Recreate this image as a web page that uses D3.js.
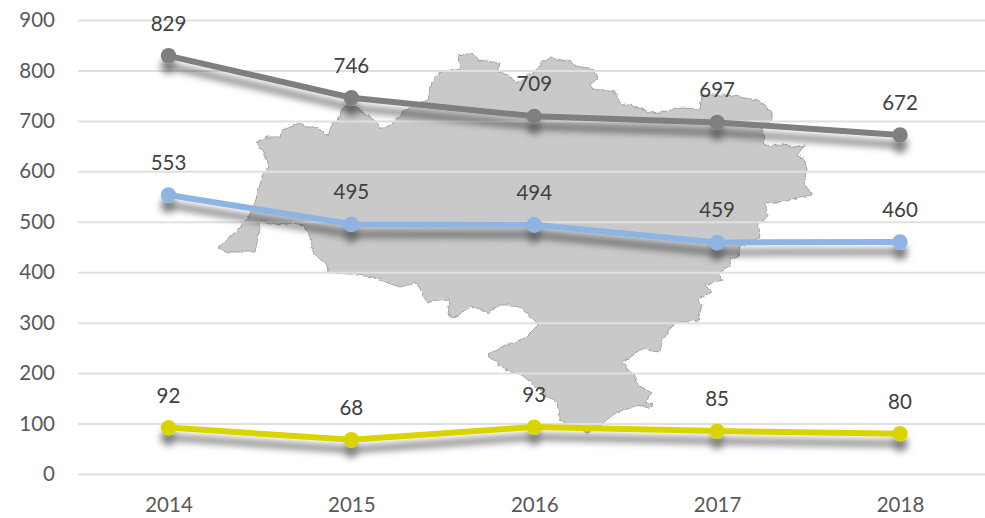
<!DOCTYPE html>
<html>
<head>
<meta charset="utf-8">
<script src="https://cdn.jsdelivr.net/npm/d3@7"></script>
<style>
html,body{margin:0;padding:0;background:#fff;}
svg{display:block;}
</style>
</head>
<body>
<svg id="chart" width="985" height="518"></svg>
<script>
const years = ["2014", "2015", "2016", "2017", "2018"];
const yTicks = [0, 100, 200, 300, 400, 500, 600, 700, 800, 900];
const grayValues = [829, 746, 709, 697, 672];
const blueValues = [553, 495, 494, 459, 460];
const yellowValues = [92, 68, 93, 85, 80];
const seriesList = [grayValues, blueValues, yellowValues];
const seriesColors = ["#7f7f7f", "#8db4e2", "#d9d400"];

const svg = d3.select("#chart");
const fontFamily = "Lato, Carlito, 'Open Sans', sans-serif";
const x = d3.scalePoint().domain(years).range([168.5, 900]);
const y = d3.scaleLinear().domain([0, 900]).range([474, 20]);

const defs = svg.append("defs");
const shadow = defs.append("filter").attr("id", "shadow")
  .attr("filterUnits", "userSpaceOnUse")
  .attr("x", 0).attr("y", 0).attr("width", 985).attr("height", 518);
shadow.append("feDropShadow").attr("dx", 0).attr("dy", 10).attr("stdDeviation", 3.8)
  .attr("flood-color", "#000").attr("flood-opacity", 0.5);
const rough = defs.append("filter").attr("id", "rough")
  .attr("filterUnits", "userSpaceOnUse")
  .attr("x", 0).attr("y", 0).attr("width", 985).attr("height", 518);
rough.append("feTurbulence").attr("type", "fractalNoise").attr("baseFrequency", 0.18)
  .attr("numOctaves", 2).attr("seed", 4).attr("result", "n");
rough.append("feDisplacementMap").attr("in", "SourceGraphic").attr("in2", "n")
  .attr("scale", 4).attr("xChannelSelector", "R").attr("yChannelSelector", "G");

/* decorative backdrop: regional outline, in page pixels */
const backdropOutline = [
  [257,143],[267,137],[280,137],[282,130],[303,123],[305,127],[317,127],[328,136],[332,123],[338,122],
  [340,112],[347,106],[355,107],[363,112],[375,120],[380,128],[385,128],[397,120],[407,108],[428,100],
  [432,82],[440,72],[460,68],[458,56],[472,53],[478,60],[500,63],[498,72],[508,75],[517,83],
  [537,70],[542,61],[550,58],[572,62],[576,66],[592,69],[598,78],[590,85],[593,89],[615,92],
  [620,103],[637,107],[650,113],[661,112],[672,110],[680,108],[700,109],[702,95],[727,95],[745,98],
  [757,100],[766,106],[772,112],[772,120],[762,128],[765,145],[773,146],[783,144],[795,147],[805,145],
  [797,155],[804,160],[807,168],[804,183],[812,195],[800,197],[787,201],[765,203],[768,217],[757,225],
  [760,237],[740,247],[738,257],[730,260],[730,267],[718,273],[722,280],[705,285],[712,292],[697,300],
  [702,305],[698,320],[675,323],[663,338],[660,352],[652,351],[642,348],[623,363],[632,373],[638,385],
  [652,393],[645,402],[653,405],[648,408],[640,405],[617,412],[600,425],[588,433],[567,425],[560,420],
  [557,403],[543,393],[522,375],[505,370],[488,355],[500,348],[525,338],[538,325],[522,308],[510,305],
  [500,305],[488,313],[472,306],[453,318],[448,315],[450,300],[427,302],[417,283],[400,287],[385,282],
  [373,277],[350,274],[328,273],[327,265],[313,253],[310,237],[303,225],[292,223],[280,225],[258,220],
  [260,228],[255,252],[225,252],[218,248],[240,228],[243,223],[249,216],[255,203],[263,173],[270,167],
  [265,155]
];
svg.append("path")
  .attr("d", d3.line()(backdropOutline) + "Z")
  .attr("fill", "#c9c9c9")
  .attr("stroke", "#a3a3a3")
  .attr("stroke-width", 1)
  .attr("filter", "url(#rough)");

/* gridlines */
const yAxis = d3.axisLeft(y).tickValues(yTicks).tickSize(-907).tickPadding(23).tickFormat(d3.format("d"));
const yG = svg.append("g").attr("transform", "translate(78,0)").call(yAxis);
yG.select(".domain").remove();
yG.selectAll(".tick line").attr("stroke", "#e0e0e0").attr("stroke-width", 2);
yG.selectAll(".tick text").attr("fill", "#595959").attr("font-family", fontFamily).attr("font-size", 20.5);

/* x axis */
const xAxis = d3.axisBottom(x).tickSize(0).tickPadding(23);
const xG = svg.append("g").attr("transform", "translate(0,474)").call(xAxis);
xG.select(".domain").remove();
xG.selectAll(".tick text").attr("fill", "#595959").attr("font-family", fontFamily).attr("font-size", 20.5);

/* series */
const line = d3.line().x((d, i) => x(years[i])).y(d => y(d));
seriesList.forEach((vals, si) => {
  const g = svg.append("g").attr("filter", "url(#shadow)");
  g.append("path").attr("d", line(vals)).attr("fill", "none")
    .attr("stroke", seriesColors[si]).attr("stroke-width", 6);
  g.selectAll("circle").data(vals).join("circle")
    .attr("cx", (d, i) => x(years[i])).attr("cy", d => y(d)).attr("r", 7.7)
    .attr("fill", seriesColors[si]);
});
seriesList.forEach(vals => {
  svg.append("g").selectAll("text").data(vals).join("text")
    .attr("x", (d, i) => x(years[i])).attr("y", d => y(d) - 25)
    .attr("text-anchor", "middle")
    .attr("fill", "#404040").attr("font-family", fontFamily).attr("font-size", 20.5)
    .text(d => d);
});
</script>
</body>
</html>
